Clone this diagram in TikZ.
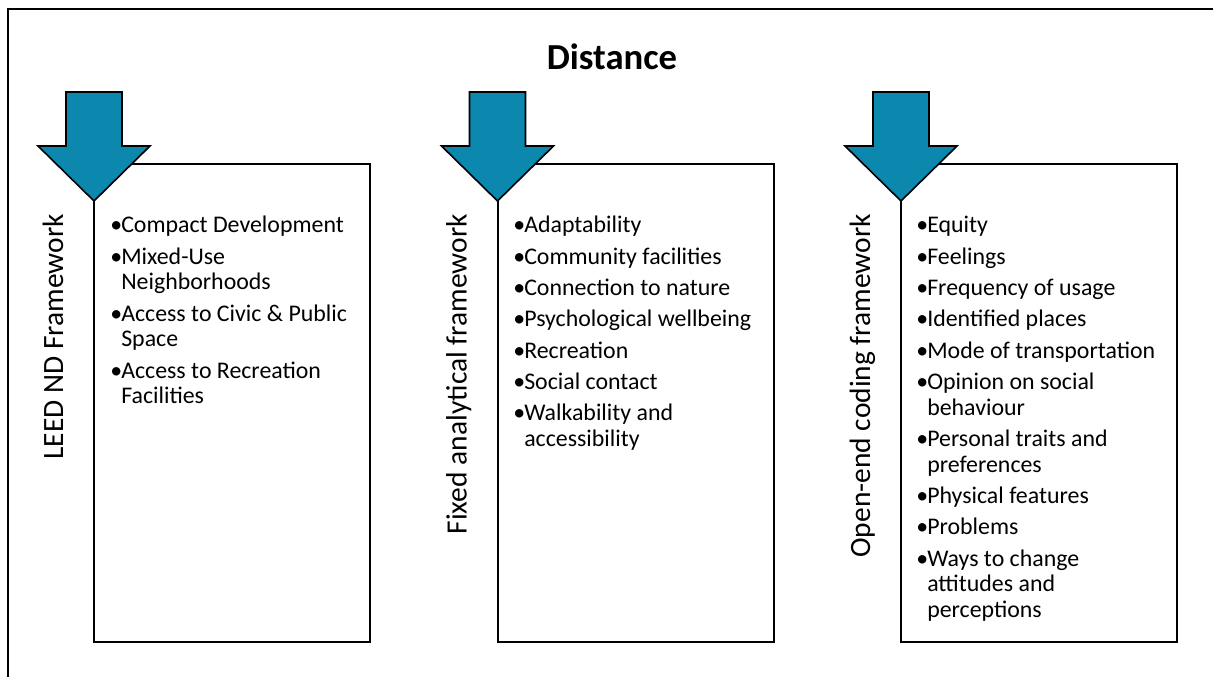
\documentclass[tikz,border=0pt]{standalone}
\usepackage{fontspec}
\setmainfont{Carlito}
\definecolor{arrowblue}{RGB}{12,135,173}
\newcommand{\bu}{\makebox[8.25pt][l]{•}}
\newcommand{\gap}{\\[4.3pt]}
\begin{document}
\begin{tikzpicture}[x=0.75pt,y=-0.75pt,
  frameline/.style={line width=1.5pt},
  listbox/.style={draw, line width=1.5pt},
  downarrow/.style={draw=black, line width=1.2pt, fill=arrowblue, line join=miter},
  sidelabel/.style={rotate=90, anchor=base east, inner sep=0pt, font=\fontsize{22.1}{26}\selectfont},
  itemlist/.style={anchor=base west, inner sep=0pt, font=\fontsize{17.9}{19.2}\selectfont}
]
\useasboundingbox (0,0) rectangle (1213,677);
% outer frame (top and left only)
\draw[frameline] (1213,9) -- (8,9) -- (8,677);
% title
\node[anchor=base, inner sep=0pt, font=\fontsize{27.5}{32}\selectfont\bfseries] (title) at (612,70) {Distance};
% boxes
\foreach \bx/\nm in {94/b1, 497.5/b2, 901/b3} {
  \draw[listbox] (\bx,164) rectangle ++(276,478);
}
% arrows
\foreach \cx/\nm in {94/a1, 497.5/a2, 901/a3} {
  \draw[downarrow] (\cx-28,92) -- (\cx+28,92) -- (\cx+28,146) -- (\cx+56,146)
     -- (\cx,201) -- (\cx-56,146) -- (\cx-28,146) -- cycle;
}
% side labels
\node[sidelabel] (s1) at (63,214) {LEED ND Framework};
\node[sidelabel] (s2) at (466.5,214) {Fixed analytical framework};
\node[sidelabel] (s3) at (870,214) {Open-end coding framework};
% lists
\node[itemlist] (l1) at (110,233) {\begin{tabular}[t]{@{}l@{}l@{}}
\bu&Compact Development\gap
\bu&Mixed-Use\\ &Neighborhoods\gap
\bu&Access to Civic \& Public\\ &Space\gap
\bu&Access to Recreation\\ &Facilities
\end{tabular}};
\node[itemlist] (l2) at (513,233) {\begin{tabular}[t]{@{}l@{}l@{}}
\bu&Adaptability\gap
\bu&Community facilities\gap
\bu&Connection to nature\gap
\bu&Psychological wellbeing\gap
\bu&Recreation\gap
\bu&Social contact\gap
\bu&Walkability and\\ &accessibility
\end{tabular}};
\node[itemlist] (l3) at (916,233) {\begin{tabular}[t]{@{}l@{}l@{}}
\bu&Equity\gap
\bu&Feelings\gap
\bu&Frequency of usage\gap
\bu&Identified places\gap
\bu&Mode of transportation\gap
\bu&Opinion on social\\ &behaviour\gap
\bu&Personal traits and\\ &preferences\gap
\bu&Physical features\gap
\bu&Problems\gap
\bu&Ways to change\\ &attitudes and\\ &perceptions
\end{tabular}};
\end{tikzpicture}
\end{document}
